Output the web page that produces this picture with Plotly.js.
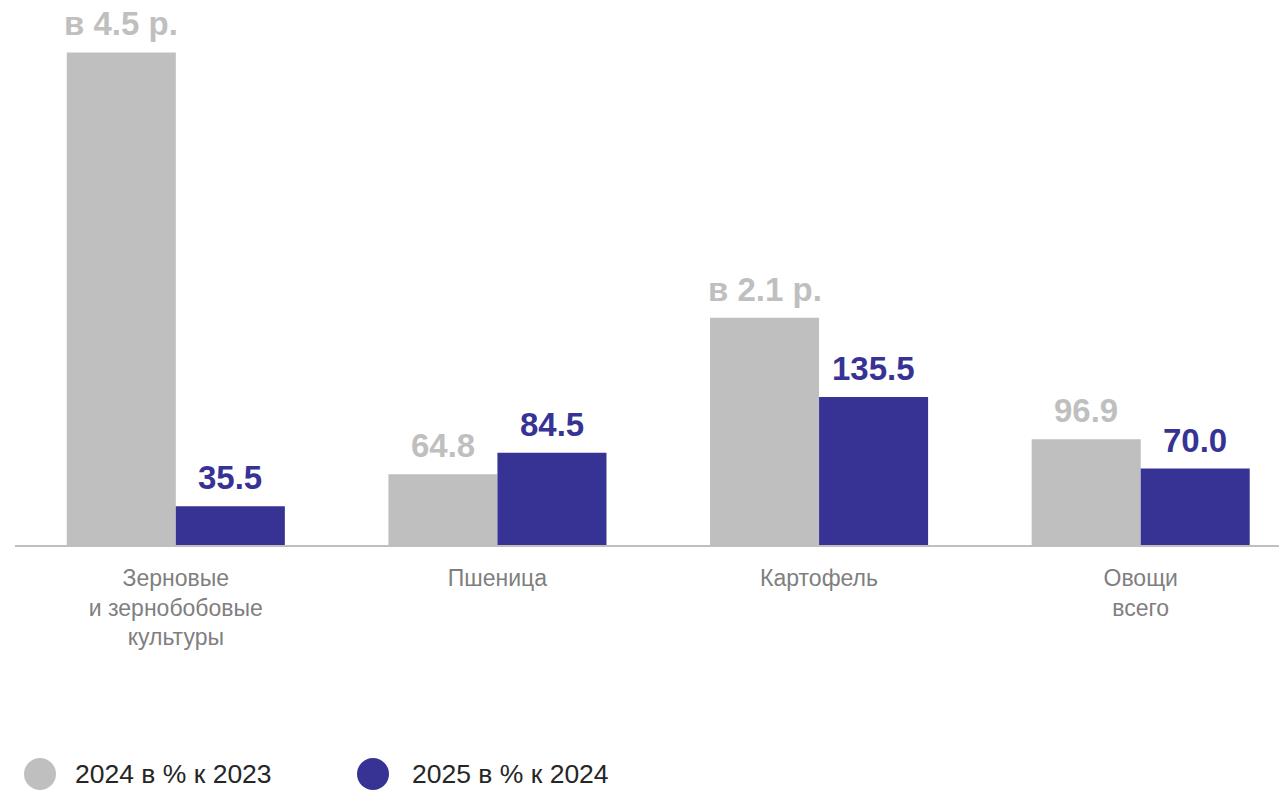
<!DOCTYPE html>
<html>
<head>
<meta charset="utf-8">
<script src="https://cdn.plot.ly/plotly-3.0.1.min.js"></script>
<style>html,body{margin:0;padding:0;background:#fff;}#chart{width:1279px;height:791px;}</style>
</head>
<body>
<div id="chart"></div>
<script>
// ---- data ----
const categories = ["Зерновые<br>и зернобобовые<br>культуры", "Пшеница", "Картофель", "Овощи<br>всего"];
const seriesNames = ["2024 в % к 2023", "2025 в % к 2024"];
const values2024 = [451, 64.8, 208, 96.9];
const values2025 = [35.5, 84.5, 135.5, 70.0];
const labels2024 = ["в 4.5 р.", "64.8", "в 2.1 р.", "96.9"];
const labels2025 = ["35.5", "84.5", "135.5", "70.0"];
const colors = ["#bfbfbf", "#373394"];

// ---- layout geometry ----
const W = 1279, H = 791, mL = 15, mR = 0, mT = 0, mB = 246;
const plotW = W - mL - mR, plotH = H - mT - mB;
const px2x = p => (p - mL) / plotW;
const py2y = p => (H - mB - p) / plotH;
const FONT = "Arial, 'Liberation Sans', sans-serif";

const traces = [
  {type: "bar", x: categories, y: values2024, name: seriesNames[0], marker: {color: colors[0]}, showlegend: false, hoverinfo: "none"},
  {type: "bar", x: categories, y: values2025, name: seriesNames[1], marker: {color: colors[1]}, showlegend: false, hoverinfo: "none"}
];

const annotations = [];
const halfBar = 54.5;
categories.forEach((c, i) => {
  annotations.push({x: c, y: values2024[i], xref: "x", yref: "y", text: labels2024[i], showarrow: false,
    xanchor: "center", yanchor: "bottom", xshift: -halfBar, yshift: 8,
    font: {family: FONT, size: 33, color: colors[0], weight: "bold"}});
  annotations.push({x: c, y: values2025[i], xref: "x", yref: "y", text: labels2025[i], showarrow: false,
    xanchor: "center", yanchor: "bottom", xshift: halfBar, yshift: 8,
    font: {family: FONT, size: 33, color: colors[1], weight: "bold"}});
});

// custom legend (large circles)
const legendPos = [{cx: 40, tx: 73}, {cx: 373, tx: 410}];
const shapes = [];
seriesNames.forEach((n, i) => {
  shapes.push({type: "circle", xref: "paper", yref: "paper", xsizemode: "pixel", ysizemode: "pixel",
    xanchor: px2x(legendPos[i].cx), yanchor: py2y(774), x0: -16, x1: 16, y0: -16, y1: 16,
    fillcolor: colors[i], line: {width: 0}});
  annotations.push({xref: "paper", yref: "paper", x: px2x(legendPos[i].tx), y: py2y(774), text: n,
    showarrow: false, xanchor: "left", yanchor: "middle",
    font: {family: FONT, size: 26.5, color: "#262626"}});
});

const layout = {
  width: W, height: H,
  margin: {l: mL, r: mR, t: mT, b: mB, pad: 0},
  paper_bgcolor: "#ffffff", plot_bgcolor: "#ffffff",
  barmode: "group", bargap: 0.322, bargroupgap: 0,
  showlegend: false,
  font: {family: FONT},
  xaxis: {type: "category", range: [-0.5, 3.43], showline: true, linecolor: "#bfbfbf", linewidth: 2,
    ticks: "", ticklabelstandoff: 11, showgrid: false, zeroline: false,
    tickfont: {family: FONT, size: 23, color: "#7f7f7f"}, fixedrange: true},
  yaxis: {range: [0, 499], visible: false, showgrid: false, zeroline: false, fixedrange: true},
  annotations: annotations,
  shapes: shapes
};

Plotly.newPlot("chart", traces, layout, {displayModeBar: false, staticPlot: true});
</script>
</body>
</html>
